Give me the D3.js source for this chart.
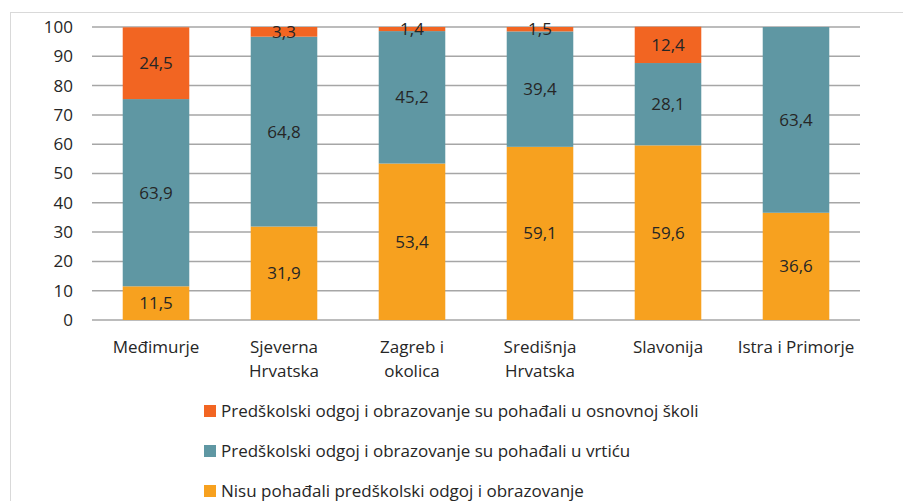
<!DOCTYPE html>
<html>
<head>
<meta charset="utf-8">
<script src="https://cdn.jsdelivr.net/npm/d3@7"></script>
<style>
  body { margin: 0; background: #fff; }
  text { font-family: "Open Sans", Lato, sans-serif; fill: #262626; }
</style>
</head>
<body>
<svg id="chart" width="903" height="501"></svg>
<script>
// Categories (regions), each label can span two lines
const regions = ["Međimurje", "Sjeverna\nHrvatska", "Zagreb i\nokolica", "Središnja\nHrvatska", "Slavonija", "Istra i Primorje"];

// Series values (percent), bottom to top
const notAttended   = [11.5, 31.9, 53.4, 59.1, 59.6, 36.6];
const kindergarten  = [63.9, 64.8, 45.2, 39.4, 28.1, 63.4];
const primarySchool = [24.5, 3.3, 1.4, 1.5, 12.4, 0];

const seriesNames = [
  "Nisu pohađali predškolski odgoj i obrazovanje",
  "Predškolski odgoj i obrazovanje su pohađali u vrtiću",
  "Predškolski odgoj i obrazovanje su pohađali u osnovnoj školi"
];
const yTicks = [0, 10, 20, 30, 40, 50, 60, 70, 80, 90, 100];

const colors = ["#F7A11F", "#5F97A3", "#F26522"];
const seriesValues = [notAttended, kindergarten, primarySchool];

const svg = d3.select("#chart");

// Chart area frame
svg.append("rect")
    .attr("x", 10.5).attr("y", 12.5)
    .attr("width", 900).attr("height", 500)
    .attr("fill", "none")
    .attr("stroke", "#d9d9d9");

const margin = { left: 92, right: 43, top: 27, bottom: 181 };
const width  = 903 - margin.left - margin.right;
const height = 501 - margin.top - margin.bottom;

const g = svg.append("g").attr("transform", `translate(${margin.left},${margin.top})`);

const x = d3.scaleBand().domain(regions).range([0, width]).paddingInner(0.48).paddingOuter(0.24);
const y = d3.scaleLinear().domain([0, 100]).range([height, 0]);

// Gridlines
g.selectAll(".grid")
    .data(yTicks)
    .enter()
    .append("line")
    .attr("x1", 0).attr("x2", width)
    .attr("y1", d => y(d)).attr("y2", d => y(d))
    .attr("stroke", "#a6a6a6")
    .attr("stroke-width", 1.5);

// Y axis labels
const yAxis = g.append("g").call(d3.axisLeft(y).tickValues(yTicks).tickSize(0).tickPadding(19));
yAxis.select(".domain").remove();
yAxis.selectAll("text").style("font-size", "17px").attr("fill", "#262626")
    .style("font-family", "'Open Sans', Lato, sans-serif");

// Stack
const rows = regions.map((r, i) => ({ idx: i, region: r, s0: notAttended[i], s1: kindergarten[i], s2: primarySchool[i] }));
const stacked = d3.stack().keys(["s0", "s1", "s2"])(rows);

const layer = g.selectAll(".layer")
    .data(stacked)
    .enter()
    .append("g")
    .attr("fill", (d, i) => colors[i]);

layer.selectAll("rect")
    .data(d => d)
    .enter()
    .append("rect")
    .attr("x", d => x(d.data.region))
    .attr("width", x.bandwidth())
    .attr("y", d => y(d[1]))
    .attr("height", d => y(d[0]) - y(d[1]));

// Data labels (value taken from the source arrays, decimal comma)
const fmt = v => v.toFixed(1).replace(".", ",");
layer.selectAll("text")
    .data((d, si) => d.map(p => ({ p: p, v: seriesValues[si][p.data.idx] })).filter(o => o.v > 0))
    .enter()
    .append("text")
    .attr("x", o => x(o.p.data.region) + x.bandwidth() / 2)
    .attr("y", o => y((o.p[0] + o.p[1]) / 2))
    .attr("dy", "0.35em")
    .attr("text-anchor", "middle")
    .style("font-size", "17px")
    .text(o => fmt(o.v));

// Category labels
const xLabels = g.selectAll(".xlabel")
    .data(regions)
    .enter()
    .append("text")
    .attr("text-anchor", "middle")
    .attr("x", d => x(d) + x.bandwidth() / 2)
    .attr("y", height + 33)
    .style("font-size", "17px");
xLabels.selectAll("tspan")
    .data(d => d.split("\n"))
    .enter()
    .append("tspan")
    .attr("x", function() { return d3.select(this.parentNode).attr("x"); })
    .attr("dy", (d, i) => i === 0 ? 0 : 24)
    .text(d => d);

// Legend (top series first)
const legendOrder = [2, 1, 0];
const legend = svg.append("g").attr("transform", "translate(204, 0)");
const items = legend.selectAll(".item")
    .data(legendOrder)
    .enter()
    .append("g")
    .attr("transform", (d, i) => `translate(0, ${411 + i * 40})`);
items.append("rect")
    .attr("x", 0).attr("y", -6)
    .attr("width", 12).attr("height", 12)
    .attr("fill", d => colors[d]);
items.append("text")
    .attr("x", 17)
    .attr("dy", "0.35em")
    .style("font-size", "17px")
    .text(d => seriesNames[d]);
</script>
</body>
</html>
